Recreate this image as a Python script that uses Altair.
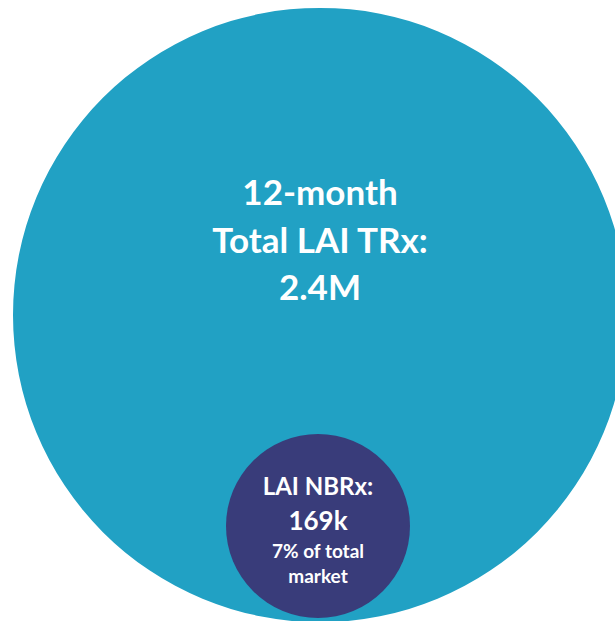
import altair as alt
import pandas as pd

# Data
circle_labels = ["12-month Total LAI TRx", "LAI NBRx"]
circle_values = [2400000, 169000]
big_lines = ["12-month", "Total LAI TRx:", "2.4M"]
small_lines = ["LAI NBRx:", "169k", "7% of total", "market"]

# Layout / style (not data)
W, H = 615, 621
TEAL = "#21A1C4"
NAVY = "#393C7A"
FONT = "Lato"
circle_centers = [(320, 315), (318, 526)]
circle_colors = [TEAL, NAVY]
big_y = [205, 253, 300]
big_sizes = [35, 35, 35]
small_y = [495, 530, 558, 583]
small_sizes = [24, 26, 19, 19]

df = pd.DataFrame({"label": circle_labels, "value": circle_values})
# Vega circle symbol: size = (diameter)^2
size_scale = alt.Scale(domain=[min(circle_values), max(circle_values)],
                       range=[(2 * 92) ** 2, (2 * 307) ** 2], zero=False)

layers = []
for i, (cx, cy) in enumerate(circle_centers):
    layers.append(
        alt.Chart(df.iloc[[i]]).mark_circle(opacity=1, color=circle_colors[i]).encode(
            x=alt.value(cx), y=alt.value(cy),
            size=alt.Size("value:Q", scale=size_scale, legend=None),
        )
    )

def text_layer(txt, x, y, fs):
    return alt.Chart(pd.DataFrame({"t": [txt]})).mark_text(
        font=FONT, fontWeight="bold", fontSize=fs, color="white",
        align="center", baseline="alphabetic",
    ).encode(x=alt.value(x), y=alt.value(y), text="t:N")

for t, y, fs in zip(big_lines, big_y, big_sizes):
    layers.append(text_layer(t, 320, y, fs))
for t, y, fs in zip(small_lines, small_y, small_sizes):
    layers.append(text_layer(t, 318, y, fs))

chart = alt.layer(*layers).properties(
    width=W, height=H, autosize=alt.AutoSizeParams(type="none"), padding=0,
    background="white",
).configure_view(stroke=None)

chart.save("out.html", embed_options={"renderer": "svg", "actions": False})
